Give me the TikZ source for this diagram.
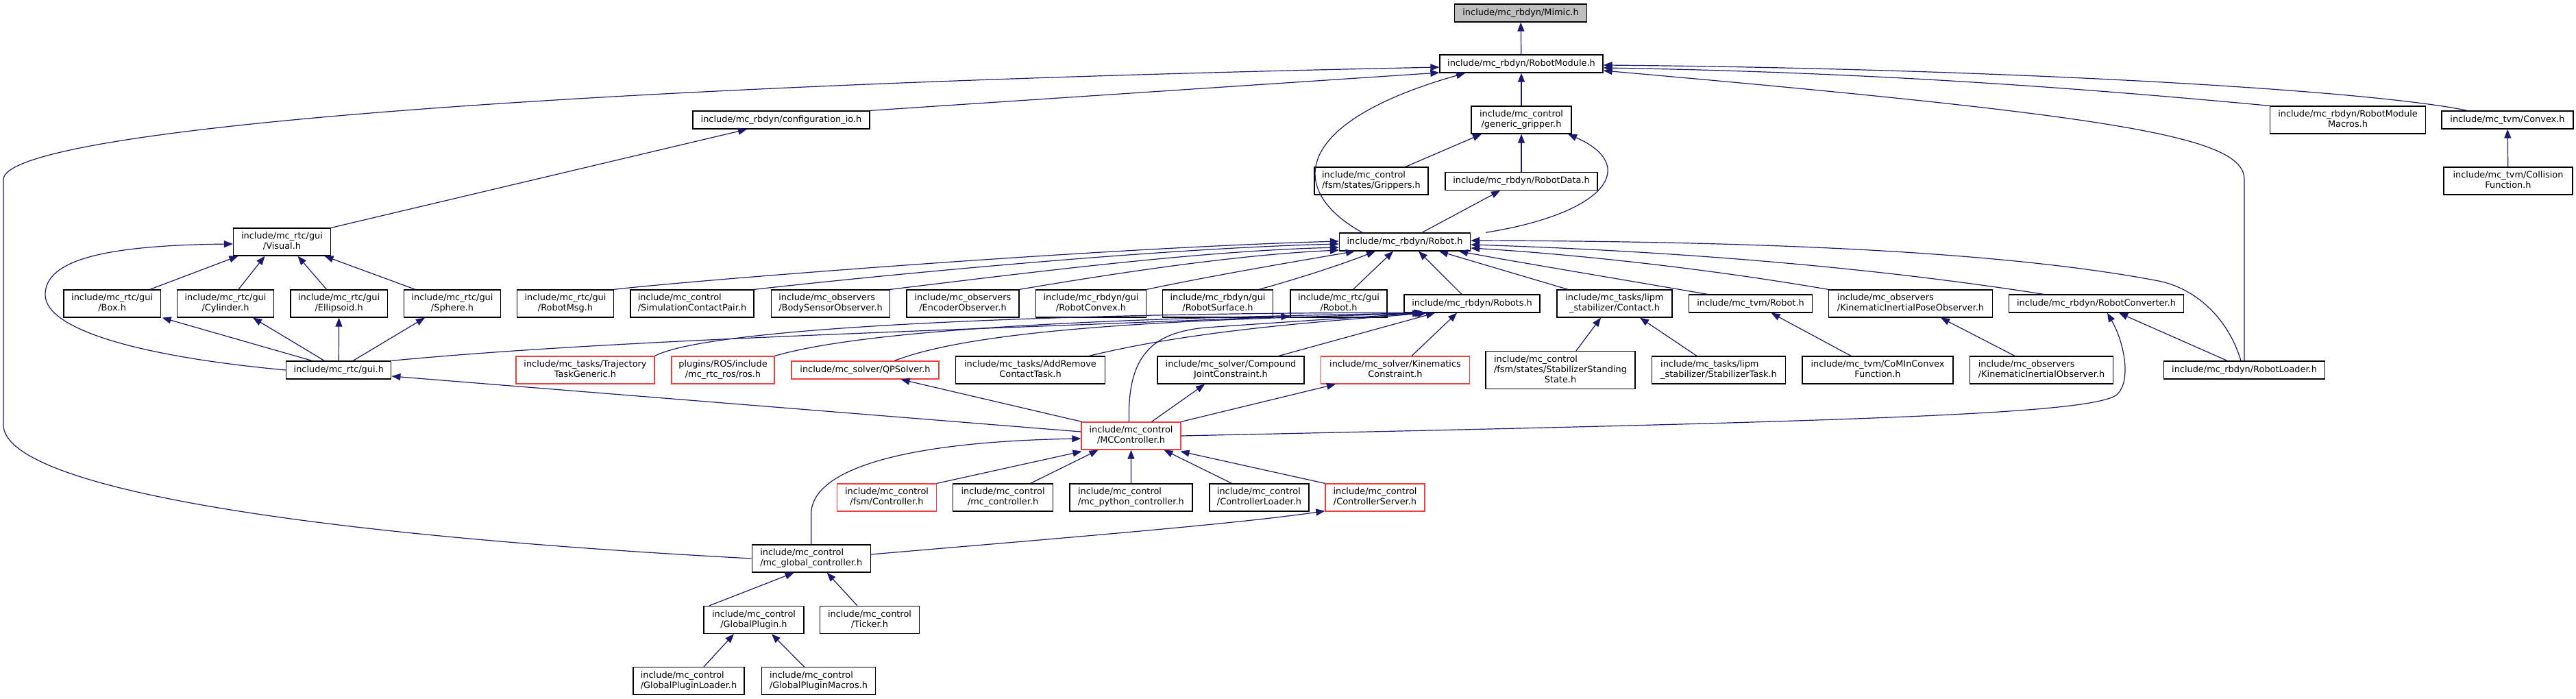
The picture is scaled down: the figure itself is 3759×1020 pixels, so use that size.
\documentclass[tikz,border=0pt]{standalone}
\usepackage{fontspec}
\setmainfont{DejaVu Sans}
\usetikzlibrary{arrows.meta}
\definecolor{edgec}{HTML}{191970}
\definecolor{truncc}{HTML}{F03C3C}
\definecolor{rootfill}{HTML}{BFBFBF}
\newcommand\twoln[2]{\begin{tabular}{@{}l@{}}#1\\\multicolumn{1}{@{}c@{}}{#2}\end{tabular}}
\newcommand\threeln[3]{\begin{tabular}{@{}l@{}}#1\\#2\\\multicolumn{1}{@{}c@{}}{#3}\end{tabular}}
\begin{document}
\begin{tikzpicture}[x=1pt,y=-1pt,
  nd/.style={draw=black, line width=1.3pt, fill=white, inner sep=0pt,
    minimum height=26pt, minimum width=#1pt, font=\fontsize{12.9}{15}\selectfont},
  nd2/.style={nd=#1, minimum height=40pt},
  nd3/.style={nd=#1, minimum height=55pt},
  trunc/.style={draw=truncc},
  rootnode/.style={fill=rootfill},
  ed/.style={draw=edgec, line width=1.2pt, -{Triangle[length=13pt,width=10pt]}}]
\useasboundingbox[fill=white] (0,0) rectangle (3759,1020);

% ---- nodes ----
\node[nd=193, rootnode] (mimic) at (2219,19) {include/mc\_rbdyn/Mimic.h};
\node[nd=238] (rmod) at (2220,93) {include/mc\_rbdyn/RobotModule.h};
\node[nd=258] (cfgio) at (1140,175) {include/mc\_rbdyn/configuration\_io.h};
\node[nd2=146] (gg) at (2220,175) {\twoln{include/mc\_control}{/generic\_gripper.h}};
\node[nd2=227] (rmm) at (3426,175) {\twoln{include/mc\_rbdyn/RobotModule}{Macros.h}};
\node[nd=192] (cvx) at (3659,175) {include/mc\_tvm/Convex.h};
\node[nd2=166] (grip) at (2001,264) {\twoln{include/mc\_control}{/fsm/states/Grippers.h}};
\node[nd=222] (rdata) at (2220,264.5) {include/mc\_rbdyn/RobotData.h};
\node[nd2=188] (coll) at (3660,264) {\twoln{include/mc\_tvm/Collision}{Function.h}};
\node[nd2=142] (visual) at (411.5,353) {\twoln{include/mc\_rtc/gui}{/Visual.h}};
\node[nd=191] (robot) at (2050,353) {include/mc\_rbdyn/Robot.h};

\node[nd2=141.5] (box) at (163.7,443) {\twoln{include/mc\_rtc/gui}{/Box.h}};
\node[nd2=141.5] (cyl) at (329,443) {\twoln{include/mc\_rtc/gui}{/Cylinder.h}};
\node[nd2=141.5] (ell) at (494.6,443) {\twoln{include/mc\_rtc/gui}{/Ellipsoid.h}};
\node[nd2=141.5] (sph) at (660,443) {\twoln{include/mc\_rtc/gui}{/Sphere.h}};
\node[nd2=141.5] (rmsg) at (825,443) {\twoln{include/mc\_rtc/gui}{/RobotMsg.h}};
\node[nd2=180] (scp) at (1010,443) {\twoln{include/mc\_control}{/SimulationContactPair.h}};
\node[nd2=173] (bso) at (1212,443) {\twoln{include/mc\_observers}{/BodySensorObserver.h}};
\node[nd2=164] (eo) at (1405,443) {\twoln{include/mc\_observers}{/EncoderObserver.h}};
\node[nd2=161] (rcvx) at (1592,443) {\twoln{include/mc\_rbdyn/gui}{/RobotConvex.h}};
\node[nd2=161] (rsurf) at (1777,443) {\twoln{include/mc\_rbdyn/gui}{/RobotSurface.h}};
\node[nd2=141] (grobot) at (1953.5,443) {\twoln{include/mc\_rtc/gui}{/Robot.h}};
\node[nd=198] (robots) at (2148,443) {include/mc\_rbdyn/Robots.h};
\node[nd2=168] (lcontact) at (2356,443) {\twoln{include/mc\_tasks/lipm}{\_stabilizer/Contact.h}};
\node[nd=180] (tvmrobot) at (2554.5,443) {include/mc\_tvm/Robot.h};
\node[nd2=239] (kipo) at (2788,443) {\twoln{include/mc\_observers}{/KinematicInertialPoseObserver.h}};
\node[nd=255] (rconv) at (3059,443) {include/mc\_rbdyn/RobotConverter.h};

\node[nd=153] (gui) at (494.3,540) {include/mc\_rtc/gui.h};
\node[nd2=202, trunc] (ttg) at (854,540) {\twoln{include/mc\_tasks/Trajectory}{TaskGeneric.h}};
\node[nd2=150, trunc] (ros) at (1055,540) {\twoln{plugins/ROS/include}{/mc\_rtc\_ros/ros.h}};
\node[nd=215, trunc] (qp) at (1262.5,540) {include/mc\_solver/QPSolver.h};
\node[nd2=218] (arc) at (1503.5,540) {\twoln{include/mc\_tasks/AddRemove}{ContactTask.h}};
\node[nd2=214] (cjc) at (1796,540) {\twoln{include/mc\_solver/Compound}{JointConstraint.h}};
\node[nd2=217, trunc] (kc) at (2036,540) {\twoln{include/mc\_solver/Kinematics}{Constraint.h}};
\node[nd3=218] (sss) at (2277,540) {\threeln{include/mc\_control}{/fsm/states/StabilizerStanding}{State.h}};
\node[nd2=195] (stask) at (2508,540) {\twoln{include/mc\_tasks/lipm}{\_stabilizer/StabilizerTask.h}};
\node[nd2=220] (comf) at (2740,540) {\twoln{include/mc\_tvm/CoMInConvex}{Function.h}};
\node[nd2=209] (kio) at (2979,540) {\twoln{include/mc\_observers}{/KinematicInertialObserver.h}};
\node[nd=235] (rload) at (3275,540) {include/mc\_rbdyn/RobotLoader.h};

\node[nd2=145, trunc] (mcc) at (1650.5,636) {\twoln{include/mc\_control}{/MCController.h}};

\node[nd2=145, trunc] (fsmc) at (1294,726) {\twoln{include/mc\_control}{/fsm/Controller.h}};
\node[nd2=146] (mcctl) at (1463.6,726) {\twoln{include/mc\_control}{/mc\_controller.h}};
\node[nd2=179] (mpc) at (1650.4,726) {\twoln{include/mc\_control}{/mc\_python\_controller.h}};
\node[nd2=145] (cload) at (1837.5,726) {\twoln{include/mc\_control}{/ControllerLoader.h}};
\node[nd2=145, trunc] (cserv) at (2006.5,726) {\twoln{include/mc\_control}{/ControllerServer.h}};

\node[nd2=173] (mgc) at (1183.7,815) {\twoln{include/mc\_control}{/mc\_global\_controller.h}};
\node[nd2=146] (gplug) at (1100,904.5) {\twoln{include/mc\_control}{/GlobalPlugin.h}};
\node[nd2=145] (ticker) at (1269,904.5) {\twoln{include/mc\_control}{/Ticker.h}};
\node[nd2=162] (gpl) at (1005,993.7) {\twoln{include/mc\_control}{/GlobalPluginLoader.h}};
\node[nd2=166] (gpm) at (1194.5,993.7) {\twoln{include/mc\_control}{/GlobalPluginMacros.h}};

% ---- edges ----
\draw[ed] (rmod) -- (mimic);
\draw[ed] (gg) -- (rmod);
\draw[ed] (cfgio.north east) -- ([yshift=-13pt]rmod.west);
\draw[ed] (mgc.west) .. controls (350,775) and (5,700) .. (5,620) -- (5,262)
  .. controls (5,190) and (800,125) .. ([yshift=-5pt]rmod.west);
\draw[ed] ([xshift=-62pt]robot.north) .. controls (1880,280) and (1880,180) .. ([xshift=-82pt]rmod.south);
\draw[ed] ([xshift=118pt]robot.north) .. controls (2350,310) and (2390,240) .. ([xshift=68pt]gg.south);
\draw[ed] ([xshift=25pt]robot.north) -- ([xshift=-31pt]rdata.south);
\draw[ed] (cvx.north west) ++(38pt,0pt) .. controls (3450,130) and (2900,100) .. ([yshift=-2pt]rmod.east);
\draw[ed] (rmm.north west) .. controls (3000,125) and (2700,105) .. ([yshift=-6pt]rmod.east);
\draw[ed] (rload.north) -- (3275,262) .. controls (3275,200) and (3100,170) .. ([yshift=-10pt]rmod.east);
\draw[ed] (grip.north) ++(50pt,0pt) -- ([xshift=-58pt]gg.south);
\draw[ed] (rdata) -- (gg);
\draw[ed] (coll) -- (cvx);
\draw[ed] (visual.north east) -- ([xshift=-50pt]cfgio.south);

% gui elements
\draw[ed] ([xshift=55pt]box.north) -- ([xshift=-64pt]visual.south);
\draw[ed] ([xshift=19pt]cyl.north) -- ([xshift=-25pt]visual.south);
\draw[ed] ([xshift=-18pt]ell.north) -- ([xshift=23pt]visual.south);
\draw[ed] ([xshift=-54pt]sph.north) -- ([xshift=62pt]visual.south);
\draw[ed] ([xshift=-39pt]gui.north) -- ([xshift=73pt]box.south);
\draw[ed] ([xshift=-21pt]gui.north) -- ([xshift=40pt]cyl.south);
\draw[ed] (gui.north) -- (ell.south);
\draw[ed] ([xshift=21pt]gui.north) -- ([xshift=-40pt]sph.south);
\draw[ed] (gui.west) .. controls (200,520) and (66,480) .. (66,430)
  .. controls (66,380) and (150,358) .. ([yshift=-3pt]visual.west);
\draw[ed] (gui.north east) .. controls (900,495) and (1400,482) .. ([yshift=2pt]grobot.south west);

% into Robot.h
\draw[ed] (rmsg.north east) .. controls (1000,410) and (1600,362) .. ([yshift=1pt]robot.west);
\draw[ed] (scp.north east) .. controls (1300,400) and (1700,362) .. ([yshift=-3pt]robot.west);
\draw[ed] (bso.north east) .. controls (1500,398) and (1750,366) .. ([yshift=-8pt]robot.west);
\draw[ed] (eo.north east) .. controls (1620,400) and (1800,372) .. ([yshift=-12pt]robot.west);
\draw[ed] (rcvx.north east) .. controls (1780,400) and (1900,380) .. ([xshift=-73pt]robot.south);
\draw[ed] ([xshift=60pt]rsurf.north) .. controls (1900,405) and (1960,385) .. ([xshift=-43pt]robot.south);
\draw[ed] ([xshift=21pt]grobot.north) -- ([xshift=-17pt]robot.south);
\draw[ed] ([xshift=-15pt]robots.north) -- ([xshift=20pt]robot.south);
\draw[ed] ([xshift=-68pt]lcontact.north) -- ([xshift=50pt]robot.south);
\draw[ed] ([xshift=-63pt]tvmrobot.north) .. controls (2350,405) and (2200,380) .. ([xshift=79pt]robot.south);
\draw[ed] (kipo.north west) .. controls (2450,385) and (2250,368) .. ([yshift=-9pt]robot.east);
\draw[ed] ([xshift=-77pt]rconv.north) .. controls (2700,385) and (2400,365) .. ([yshift=-4pt]robot.east);
\draw[ed] ([xshift=-5pt]rload.north) .. controls (3250,460) and (3200,420) .. (3150,410)
  .. controls (2900,362) and (2500,352) .. ([yshift=2pt]robot.east);
\draw[ed] (kio.north) ++(-39pt,0pt) -- ([xshift=44pt]kipo.south);
\draw[ed] (comf.north) ++(-39pt,0pt) -- ([xshift=30pt]tvmrobot.south);
\draw[ed] (stask.north) ++(-32pt,0pt) -- ([xshift=37pt]lcontact.south);
\draw[ed] (sss.north) ++(23pt,0pt) -- ([xshift=-20pt]lcontact.south);
\draw[ed] ([xshift=-25pt]rload.north) -- ([xshift=33pt]rconv.south);

% into Robots.h
\draw[ed] (ttg.north east) .. controls (1050,470) and (1700,455) .. ([xshift=-72pt]robots.south);
\draw[ed] (ros.north east) .. controls (1300,470) and (1800,462) .. ([xshift=-70pt]robots.south);
\draw[ed] ([xshift=43pt]qp.north) .. controls (1450,470) and (1850,465) .. ([xshift=-68pt]robots.south);
\draw[ed] ([xshift=86pt]arc.north) .. controls (1750,480) and (1950,468) .. ([xshift=-66pt]robots.south);
\draw[ed] ([xshift=70pt]cjc.north) -- ([xshift=-54pt]robots.south);
\draw[ed] ([xshift=24pt]kc.north) -- ([xshift=-22pt]robots.south);
\draw[ed] ([xshift=-3pt]mcc.north) .. controls (1645,520) and (1680,485) .. (1760,478)
  .. controls (1900,468) and (2000,462) .. ([xshift=-74pt]robots.south);

% from MCController
\draw[ed] ([xshift=-72pt]mcc.north) -- ([xshift=52pt]qp.south);
\draw[ed] ([xshift=30pt]mcc.north) -- ([xshift=-38pt]cjc.south);
\draw[ed] (mcc.north east) -- ([xshift=-87pt]kc.south);
\draw[ed] ([yshift=6pt]mcc.west) -- ([yshift=-9pt]gui.east);
\draw[ed] (mcc.east) .. controls (2700,615) and (3060,605) .. (3090,575)
  .. controls (3110,555) and (3100,500) .. ([xshift=16pt]rconv.south);

% into MCController
\draw[ed] (fsmc.north east) -- ([xshift=-72pt, yshift=-2pt]mcc.south);
\draw[ed] ([xshift=40pt]mcctl.north) -- ([xshift=-48pt]mcc.south);
\draw[ed] (mpc) -- (mcc);
\draw[ed] ([xshift=-40pt]cload.north) -- ([xshift=48pt]mcc.south);
\draw[ed] (cserv.north west) -- ([xshift=72pt, yshift=-2pt]mcc.south);
\draw[ed] (mgc.north) -- (1183.7,750) .. controls (1183.7,690) and (1300,645) .. ([yshift=-4pt]mcc.west);
\draw[ed] ([yshift=6pt]mgc.east) .. controls (1550,785) and (1800,765) .. ([yshift=1pt]cserv.south west);

% global controller
\draw[ed] ([xshift=-65pt]gplug.north) -- ([xshift=-25pt]mgc.south);
\draw[ed] ([xshift=-18pt]ticker.north) -- ([xshift=23pt]mgc.south);
\draw[ed] ([xshift=22pt]gpl.north) -- ([xshift=-29pt]gplug.south);
\draw[ed] ([xshift=-21pt]gpm.north) -- ([xshift=26pt]gplug.south);
\end{tikzpicture}
\end{document}
